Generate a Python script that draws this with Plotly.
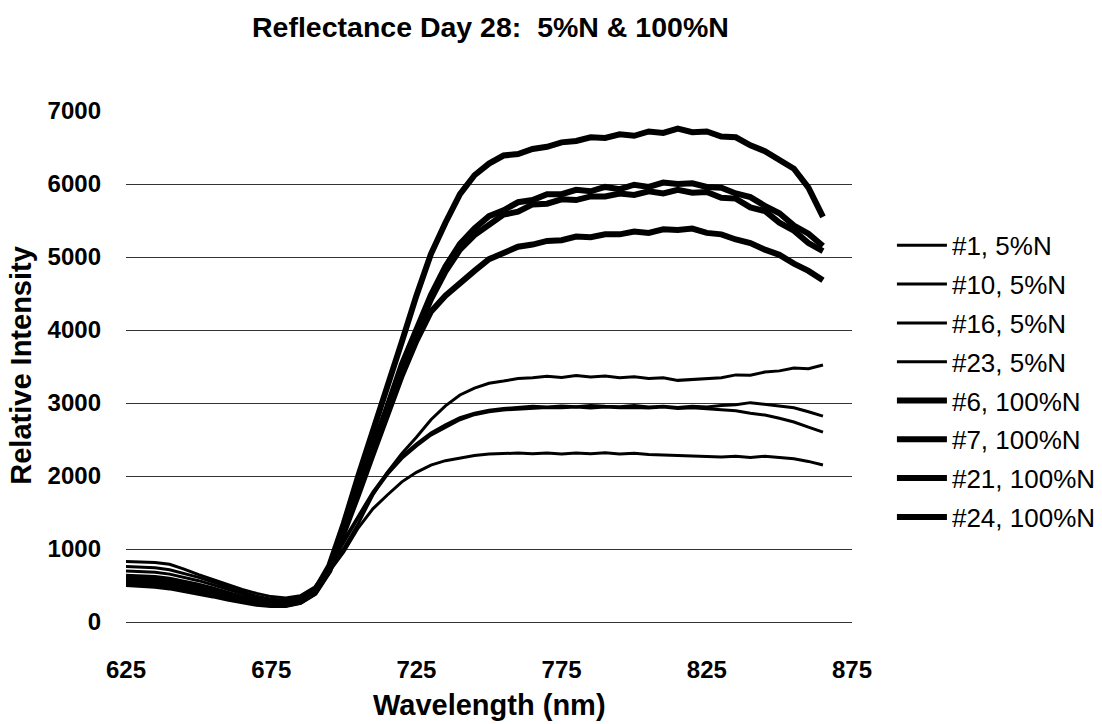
import plotly.graph_objects as go

wavelength = [625, 630, 635, 640, 645, 650, 655, 660, 665, 670,
              675, 680, 685, 690, 695, 700, 705, 710, 715, 720,
              725, 730, 735, 740, 745, 750, 755, 760, 765, 770,
              775, 780, 785, 790, 795, 800, 805, 810, 815, 820,
              825, 830, 835, 840, 845, 850, 855, 860, 865]

s1_5N = [830, 826, 815, 790, 725, 648, 580, 505, 445, 392,
         348, 330, 360, 480, 740, 1010, 1350, 1740, 2050, 2310,
         2530, 2770, 2960, 3110, 3205, 3270, 3300, 3335, 3345, 3365,
         3350, 3375, 3355, 3370, 3345, 3360, 3335, 3345, 3310, 3320,
         3325, 3345, 3385, 3380, 3425, 3440, 3480, 3470, 3520]
s10_5N = [760, 755, 742, 715, 668, 612, 548, 478, 412, 352,
          312, 298, 335, 455, 770, 1120, 1460, 1780, 2050, 2270,
          2440, 2590, 2700, 2800, 2860, 2900, 2925, 2935, 2955, 2945,
          2960, 2950, 2965, 2955, 2950, 2965, 2945, 2955, 2940, 2955,
          2945, 2965, 2975, 3005, 2985, 2960, 2935, 2880, 2820]
s16_5N = [700, 696, 682, 656, 615, 566, 508, 445, 382, 328,
          292, 284, 322, 440, 750, 1100, 1430, 1750, 2020, 2240,
          2410, 2560, 2670, 2770, 2840, 2880, 2905, 2920, 2930, 2940,
          2935, 2945, 2930, 2945, 2935, 2940, 2930, 2945, 2925, 2935,
          2920, 2910, 2895, 2860, 2835, 2790, 2740, 2670, 2600]
s23_5N = [640, 636, 622, 600, 563, 518, 465, 405, 350, 302,
          272, 266, 302, 420, 690, 960, 1290, 1550, 1740, 1920,
          2050, 2150, 2210, 2250, 2280, 2300, 2305, 2315, 2305, 2315,
          2300, 2315, 2305, 2320, 2300, 2310, 2295, 2290, 2280, 2270,
          2265, 2260, 2270, 2255, 2270, 2250, 2235, 2200, 2150]
s6_100N = [600, 592, 576, 550, 515, 470, 420, 368, 320, 280,
           256, 254, 292, 425, 770, 1350, 2000, 2600, 3190, 3840,
           4470, 5040, 5470, 5860, 6120, 6280, 6390, 6410, 6480, 6510,
           6570, 6590, 6640, 6630, 6680, 6660, 6720, 6700, 6760, 6710,
           6720, 6650, 6640, 6530, 6450, 6330, 6210, 5950, 5550]
s7_100N = [570, 562, 546, 522, 486, 445, 400, 350, 305, 268,
           246, 246, 286, 412, 730, 1280, 1800, 2380, 2950, 3530,
           4020, 4480, 4870, 5180, 5390, 5560, 5640, 5750, 5780, 5860,
           5860, 5920, 5900, 5960, 5930, 5990, 5960, 6020, 6000, 6010,
           5960, 5950, 5870, 5820, 5700, 5600, 5430, 5320, 5150]
s21_100N = [545, 537, 521, 498, 464, 425, 380, 335, 294, 260,
            240, 240, 280, 402, 715, 1250, 1780, 2350, 2920, 3480,
            3950, 4420, 4800, 5100, 5300, 5450, 5580, 5620, 5720, 5730,
            5790, 5780, 5830, 5830, 5870, 5850, 5900, 5870, 5920, 5880,
            5890, 5810, 5800, 5680, 5630, 5470, 5360, 5190, 5080]
s24_100N = [520, 512, 496, 474, 444, 405, 364, 320, 282, 250,
            232, 234, 274, 396, 700, 1200, 1750, 2300, 2850, 3380,
            3850, 4250, 4470, 4650, 4810, 4970, 5050, 5140, 5170, 5220,
            5230, 5280, 5270, 5310, 5310, 5350, 5330, 5380, 5370, 5390,
            5330, 5310, 5240, 5190, 5100, 5030, 4910, 4810, 4680]

series_names = ["#1, 5%N", "#10, 5%N", "#16, 5%N", "#23, 5%N",
                "#6, 100%N", "#7, 100%N", "#21, 100%N", "#24, 100%N"]
series_values = [s1_5N, s10_5N, s16_5N, s23_5N,
                 s6_100N, s7_100N, s21_100N, s24_100N]
x_ticks = [625, 675, 725, 775, 825, 875]
y_ticks = [0, 1000, 2000, 3000, 4000, 5000, 6000, 7000]

FONT = "Liberation Sans, Arial, sans-serif"

fig = go.Figure()
for i, (name, vals) in enumerate(zip(series_names, series_values)):
    thick = "100%N" in name
    fig.add_trace(go.Scatter(
        x=wavelength, y=vals, mode="lines", name=name,
        legendgroup=name,
        line=dict(color="black", width=6 if thick else 3),
    ))

fig.update_layout(
    width=1102, height=724,
    margin=dict(l=126, r=250, t=111, b=102, autoexpand=False),
    plot_bgcolor="white", paper_bgcolor="white",
    font=dict(family=FONT, color="black"),
    showlegend=True,
    legend=dict(
        x=1.055, y=0.783, xanchor="left", yanchor="top",
        font=dict(family=FONT, size=26, color="black"),
        traceorder="grouped", tracegroupgap=2,
        itemwidth=50, bgcolor="rgba(0,0,0,0)",
    ),
    annotations=[
        dict(text="<b>Reflectance Day 28:  5%N &amp; 100%N</b>", xref="paper", yref="paper",
             x=0.502, y=1.164, xanchor="center", yanchor="middle", showarrow=False,
             font=dict(family=FONT, size=28.5, color="black")),
        dict(text="<b>Wavelength (nm)</b>", xref="paper", yref="paper",
             x=0.501, y=-0.162, xanchor="center", yanchor="middle", showarrow=False,
             font=dict(family=FONT, size=29, color="black")),
        dict(text="<b>Relative Intensity</b>", xref="paper", yref="paper",
             x=-0.145, y=0.503, xanchor="center", yanchor="middle", showarrow=False,
             textangle=-90, font=dict(family=FONT, size=29, color="black")),
    ],
)
fig.update_xaxes(
    range=[625, 875], tickvals=x_ticks, ticktext=[str(v) for v in x_ticks],
    showgrid=False, zeroline=False, showline=False, ticks="",
    ticklabelstandoff=31,
    tickfont=dict(family=FONT, size=24, color="black", weight="bold"),
)
fig.update_yaxes(
    range=[0, 7000], tickvals=y_ticks, ticktext=[str(v) for v in y_ticks],
    showgrid=True, gridcolor="#333", gridwidth=1,
    zeroline=True, zerolinecolor="#333", zerolinewidth=1,
    showline=False, ticks="", ticklabelstandoff=24,
    tickfont=dict(family=FONT, size=24, color="black", weight="bold"),
)
fig.write_html("out.html")
